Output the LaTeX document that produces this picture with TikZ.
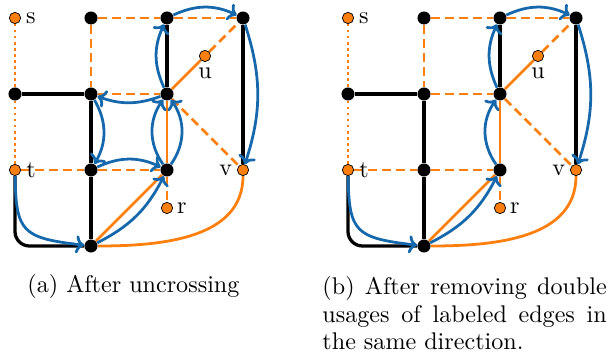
\documentclass[tikz,border=0pt]{standalone}
\usetikzlibrary{arrows.meta}

\definecolor{termorange}{RGB}{255,127,14}
\definecolor{walkblue}{RGB}{22,104,172}

\pgfdeclarelayer{edges}
\pgfsetlayers{edges,main}

\tikzset{
  vtx/.style={circle, fill=black, inner sep=0pt, minimum size=5.4pt},
  term/.style={circle, fill=termorange, draw=black, line width=0.3pt,
    inner sep=0pt, minimum size=4.7pt},
  lbl/.style={inner sep=0pt, font=\fontsize{10}{12}\selectfont},
  captext/.style={inner sep=0pt, font=\fontsize{10}{11.4}\selectfont},
  plainedge/.style={line width=1.35pt, black},
  labsolid/.style={line width=1.15pt, termorange},
  labdashed/.style={line width=1.15pt, termorange, dash pattern=on 3.7pt off 2.1pt},
  labdotted/.style={line width=1.15pt, termorange, dash pattern=on 1pt off 1.5pt},
  walk/.style={line width=1.15pt, walkblue, -{To[length=3.5pt,width=7.5pt]}},
}

% The common grid graph: terminals, vertices and labeled / unlabeled edges.
% #1 is the prefix of the node names.
\newcommand\gridgraph[1]{%
  \node[term, label={[lbl,label distance=1.9pt]0:s}] (#1s) at (15,18) {};
  \node[vtx] (#1n1) at (91,18) {};
  \node[vtx] (#1n2) at (167,18) {};
  \node[vtx] (#1n3) at (243,18) {};
  \node[term, label={[lbl,label distance=2.2pt]-90:u}] (#1u) at (205,56) {};
  \node[vtx] (#1m0) at (15,94) {};
  \node[vtx] (#1m1) at (91,94) {};
  \node[vtx] (#1m2) at (167,94) {};
  \node[term, label={[lbl,label distance=2pt]0:t}] (#1t) at (15,170) {};
  \node[vtx] (#1l1) at (91,170) {};
  \node[vtx] (#1l2) at (167,170) {};
  \node[term, label={[lbl,label distance=1.8pt]180:v}] (#1v) at (243,170) {};
  \node[term, label={[lbl,label distance=1.5pt]0:r}] (#1r) at (167,208) {};
  \node[vtx] (#1b) at (91,246) {};
  \begin{pgfonlayer}{edges}
    % labeled edges
    \draw[labdotted] (#1s) -- (#1m0);
    \draw[labdotted] (#1m0) -- (#1t);
    \draw[labdashed] (#1n1) -- (#1n2);
    \draw[labdashed] (#1n2) -- (#1n3);
    \draw[labdashed] (#1n1) -- (#1m1);
    \draw[labdashed] (#1m1) -- (#1m2);
    \draw[labdashed] (#1u) -- (#1n3);
    \draw[labdashed] (#1m2) -- (#1v);
    \draw[labdashed] (#1t) -- (#1l1);
    \draw[labdashed] (#1l1) -- (#1l2);
    \draw[labdashed] (#1l2) -- (#1r);
    \draw[labsolid] (#1m2) -- (#1u);
    \draw[labsolid] (#1m2) -- (#1l2);
    \draw[labsolid] (#1b) -- (#1l2);
    \draw[labsolid] (#1b) to[out=0, in=-90] (#1v);
    % unlabeled edges
    \draw[plainedge] (#1m0) -- (#1m1);
    \draw[plainedge] (#1n2) -- (#1m2);
    \draw[plainedge] (#1n3) -- (#1v);
    \draw[plainedge] (#1m1) -- (#1l1);
    \draw[plainedge] (#1l1) -- (#1b);
    \draw[plainedge, rounded corners=6pt] (#1t) |- (#1b);
    % first steps of the walk, hugging the unlabeled edge from t
    \draw[walk] (#1t) .. controls +(1,62) and +(-69,-8) .. (#1b);
    \draw[walk] (#1b) to[bend right=18] (#1l2);
  \end{pgfonlayer}%
}

\begin{document}
\begin{tikzpicture}[x=0.415pt, y=-0.415pt]
  \useasboundingbox (0,0) rectangle (607,352);

  % (a) walk after uncrossing
  \gridgraph{a}
  \begin{pgfonlayer}{edges}
    \draw[walk] (al2) to[bend left=35] (am2);
    \draw[walk] (al2) to[bend right=35] (am2);
    \draw[walk] (am2) to[bend left=20] (am1);
    \draw[walk] (am1) to[bend left=30] (al1);
    \draw[walk] (al1) to[bend left=25] (al2);
    \draw[walk] (am2) to[bend left=25] (an2);
    \draw[walk] (an2) to[bend left=25] (an3);
    \draw[walk] (an3) to[bend left=18] (av);
  \end{pgfonlayer}
  \node[captext, anchor=base west] (capa) at (27,293) {(a) After uncrossing};

  % (b) walk after removing repeated labeled edges
  \begin{scope}[shift={(333,0)}]
    \gridgraph{b}
    \begin{pgfonlayer}{edges}
      \draw[walk] (bl2) to[bend left=35] (bm2);
      \draw[walk] (bm2) to[bend left=25] (bn2);
      \draw[walk] (bn2) to[bend left=25] (bn3);
      \draw[walk] (bn3) to[bend left=18] (bv);
    \end{pgfonlayer}
  \end{scope}
  \node[captext, anchor=north west, text width=118pt, align=justify] (capb)
    at (322,276) {(b) After removing double usages of labeled edges in the same direction.};
\end{tikzpicture}
\end{document}
